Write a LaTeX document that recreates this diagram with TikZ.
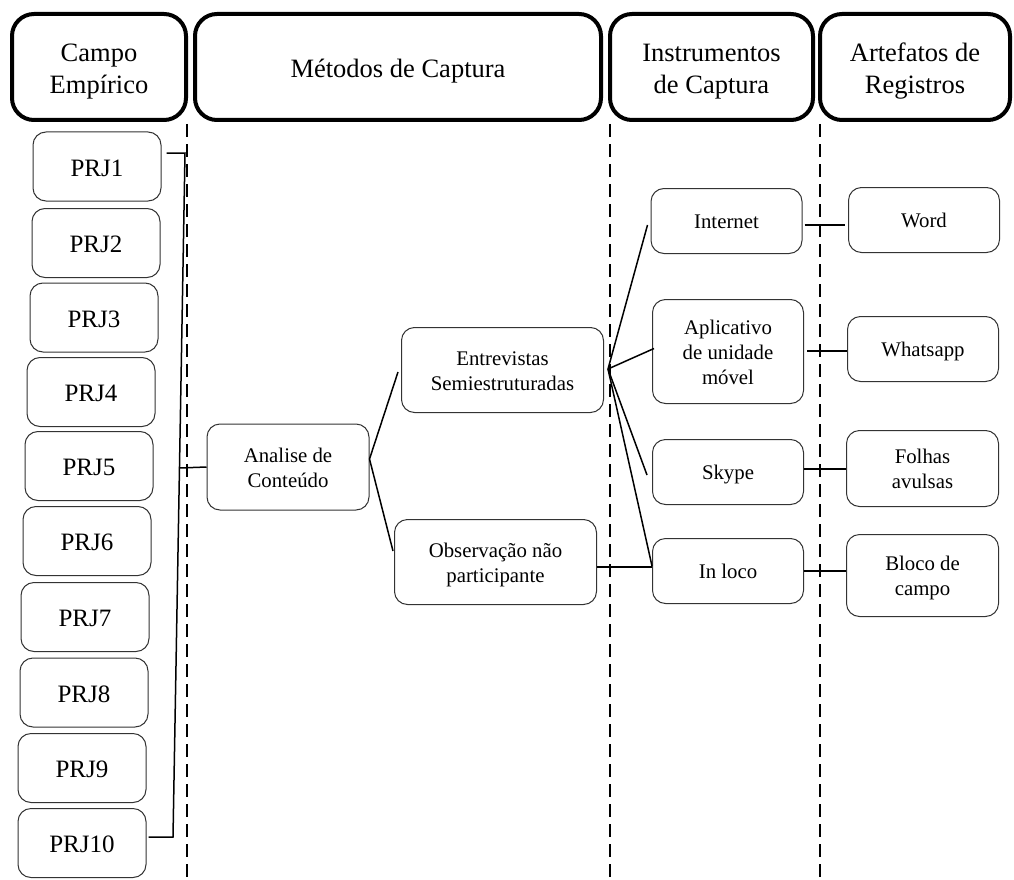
\documentclass[tikz,border=0pt]{standalone}
\usepackage{fontspec}
\setmainfont{Liberation Serif}
\newcommand\txtdn[2]{\raisebox{-#1}[\height][\depth]{\begin{tabular}{@{}c@{}}#2\end{tabular}}}
\begin{document}
\begin{tikzpicture}[x=1pt,y=-1pt,
  hdr/.style={draw=black,line width=4pt,rounded corners=22pt,align=center,
    font=\fontsize{26.5}{32}\selectfont,inner sep=0pt},
  prj/.style={draw=black!80,line width=1pt,rounded corners=13pt,align=center,
    font=\fontsize{25}{30}\selectfont,minimum width=128pt,minimum height=69pt,inner sep=0pt},
  box/.style={draw=black!80,line width=1pt,rounded corners=13pt,align=center,
    font=\fontsize{20.8}{25}\selectfont,inner sep=0pt},
  conn/.style={line width=1.5pt},
  dline/.style={line width=1.4pt,dash pattern=on 13pt off 7pt}]
\useasboundingbox (0,0) rectangle (1014,880);
\fill[white] (0,0) rectangle (1014,880);
% headers
\node[hdr,minimum width=174pt,minimum height=106pt] (h1) at (99,67) {\txtdn{4pt}{Campo\\Empírico}};
\node[hdr,minimum width=406pt,minimum height=106pt] (h2) at (398,67) {\txtdn{4pt}{Métodos de Captura}};
\node[hdr,minimum width=203pt,minimum height=106pt] (h3) at (711.5,67) {\txtdn{4pt}{Instrumentos\\de Captura}};
\node[hdr,minimum width=190pt,minimum height=106pt] (h4) at (915,67) {\txtdn{4pt}{Artefatos de\\Registros}};
% dashed separators
\coordinate (d1t) at (187,124); \coordinate (d1b) at (187,880);
\coordinate (d2t) at (610,124); \coordinate (d2b) at (610,880);
\coordinate (d3t) at (820,124); \coordinate (d3b) at (820,880);
\draw[dline] (d1t) -- (d1b);
\draw[dline] (d2t) -- (d2b);
\draw[dline] (d3t) -- (d3b);
% projects
\node[prj] (p1) at (97,166.5) {\txtdn{3.5pt}{PRJ1}};
\node[prj] (p2) at (96,243) {\txtdn{3.5pt}{PRJ2}};
\node[prj] (p3) at (94,317.5) {\txtdn{3.5pt}{PRJ3}};
\node[prj] (p4) at (91,392) {\txtdn{3.5pt}{PRJ4}};
\node[prj] (p5) at (89,466) {\txtdn{3.5pt}{PRJ5}};
\node[prj] (p6) at (87,541) {\txtdn{3.5pt}{PRJ6}};
\node[prj] (p7) at (85,617) {\txtdn{3.5pt}{PRJ7}};
\node[prj] (p8) at (84,692.5) {\txtdn{3.5pt}{PRJ8}};
\node[prj] (p9) at (82,768) {\txtdn{3.5pt}{PRJ9}};
\node[prj] (p10) at (82,843) {\txtdn{3.5pt}{PRJ10}};
% methods
\node[box,minimum width=162pt,minimum height=86pt] (ac) at (288,467) {\txtdn{2.5pt}{Analise de\\Conteúdo}};
\node[box,minimum width=202pt,minimum height=85pt] (ent) at (502.5,370) {\txtdn{2.5pt}{Entrevistas\\Semiestruturadas}};
\node[box,minimum width=202pt,minimum height=85pt] (obs) at (495.5,562) {\txtdn{2.5pt}{Observação não\\participante}};
% instruments
\node[box,minimum width=151pt,minimum height=65pt] (int) at (726.5,221) {\txtdn{2.5pt}{Internet}};
\node[box,minimum width=151pt,minimum height=104pt] (app) at (728,351.5) {\txtdn{2.5pt}{Aplicativo\\de unidade\\móvel}};
\node[box,minimum width=151pt,minimum height=65pt] (sky) at (728,472) {\txtdn{2.5pt}{Skype}};
\node[box,minimum width=151pt,minimum height=65pt] (loco) at (728,571) {\txtdn{2.5pt}{In loco}};
% artefacts
\node[box,minimum width=151pt,minimum height=65pt] (word) at (924,220) {\txtdn{2.5pt}{Word}};
\node[box,minimum width=151pt,minimum height=65pt] (wa) at (923,349) {\txtdn{2.5pt}{Whatsapp}};
\node[box,minimum width=152pt,minimum height=76pt] (fol) at (922.5,468.5) {\txtdn{2.5pt}{Folhas\\avulsas}};
\node[box,minimum width=152pt,minimum height=82pt] (bl) at (922.5,575.5) {\txtdn{2.5pt}{Bloco de\\campo}};
% bracket
\coordinate (bt) at (185,153);
\coordinate (bm) at (179.5,468);
\coordinate (bb) at (173,837);
\coordinate (p1r) at ([xshift=5pt]p1.east);
\draw[conn] (p1r |- bt) -- (bt) -- (bb) -- ([xshift=2pt]p10.east |- bb);
\draw[conn] (bm) -- (ac.west);
% analysis to methods
\coordinate (acr) at ([yshift=8pt]ac.east);
\draw[conn] (acr) -- ([xshift=-3pt,yshift=-2pt]ent.west);
\draw[conn] (acr) -- ([xshift=-1pt,yshift=11pt]obs.west);
% fan from interviews
\coordinate (fan) at (608,369);
\draw[conn] (fan) -- ([xshift=-3pt,yshift=-4pt]int.west);
\draw[conn] (fan) -- ([xshift=2pt,yshift=3pt]app.west);
\draw[conn] (fan) -- ([xshift=-5pt,yshift=-3pt]sky.west);
\draw[conn] (fan) -- ([yshift=5pt]loco.west);
% observation to in loco
\coordinate (ol) at ([yshift=4pt]loco.west);
\draw[conn] (obs.east |- ol) -- (ol);
% instruments to artefacts
\coordinate (iw) at ([xshift=2pt,yshift=-4pt]int.east);
\draw[conn] (iw) -- ([xshift=-3pt]iw -| word.west);
\coordinate (aw) at ([xshift=3pt,yshift=0.5pt]app.east);
\draw[conn] (aw) -- (aw -| wa.west);
\coordinate (sf) at ([yshift=3pt]sky.east);
\draw[conn] (sf) -- (sf -| fol.west);
\draw[conn] (loco.east) -- (loco.east -| bl.west);
\end{tikzpicture}
\end{document}
